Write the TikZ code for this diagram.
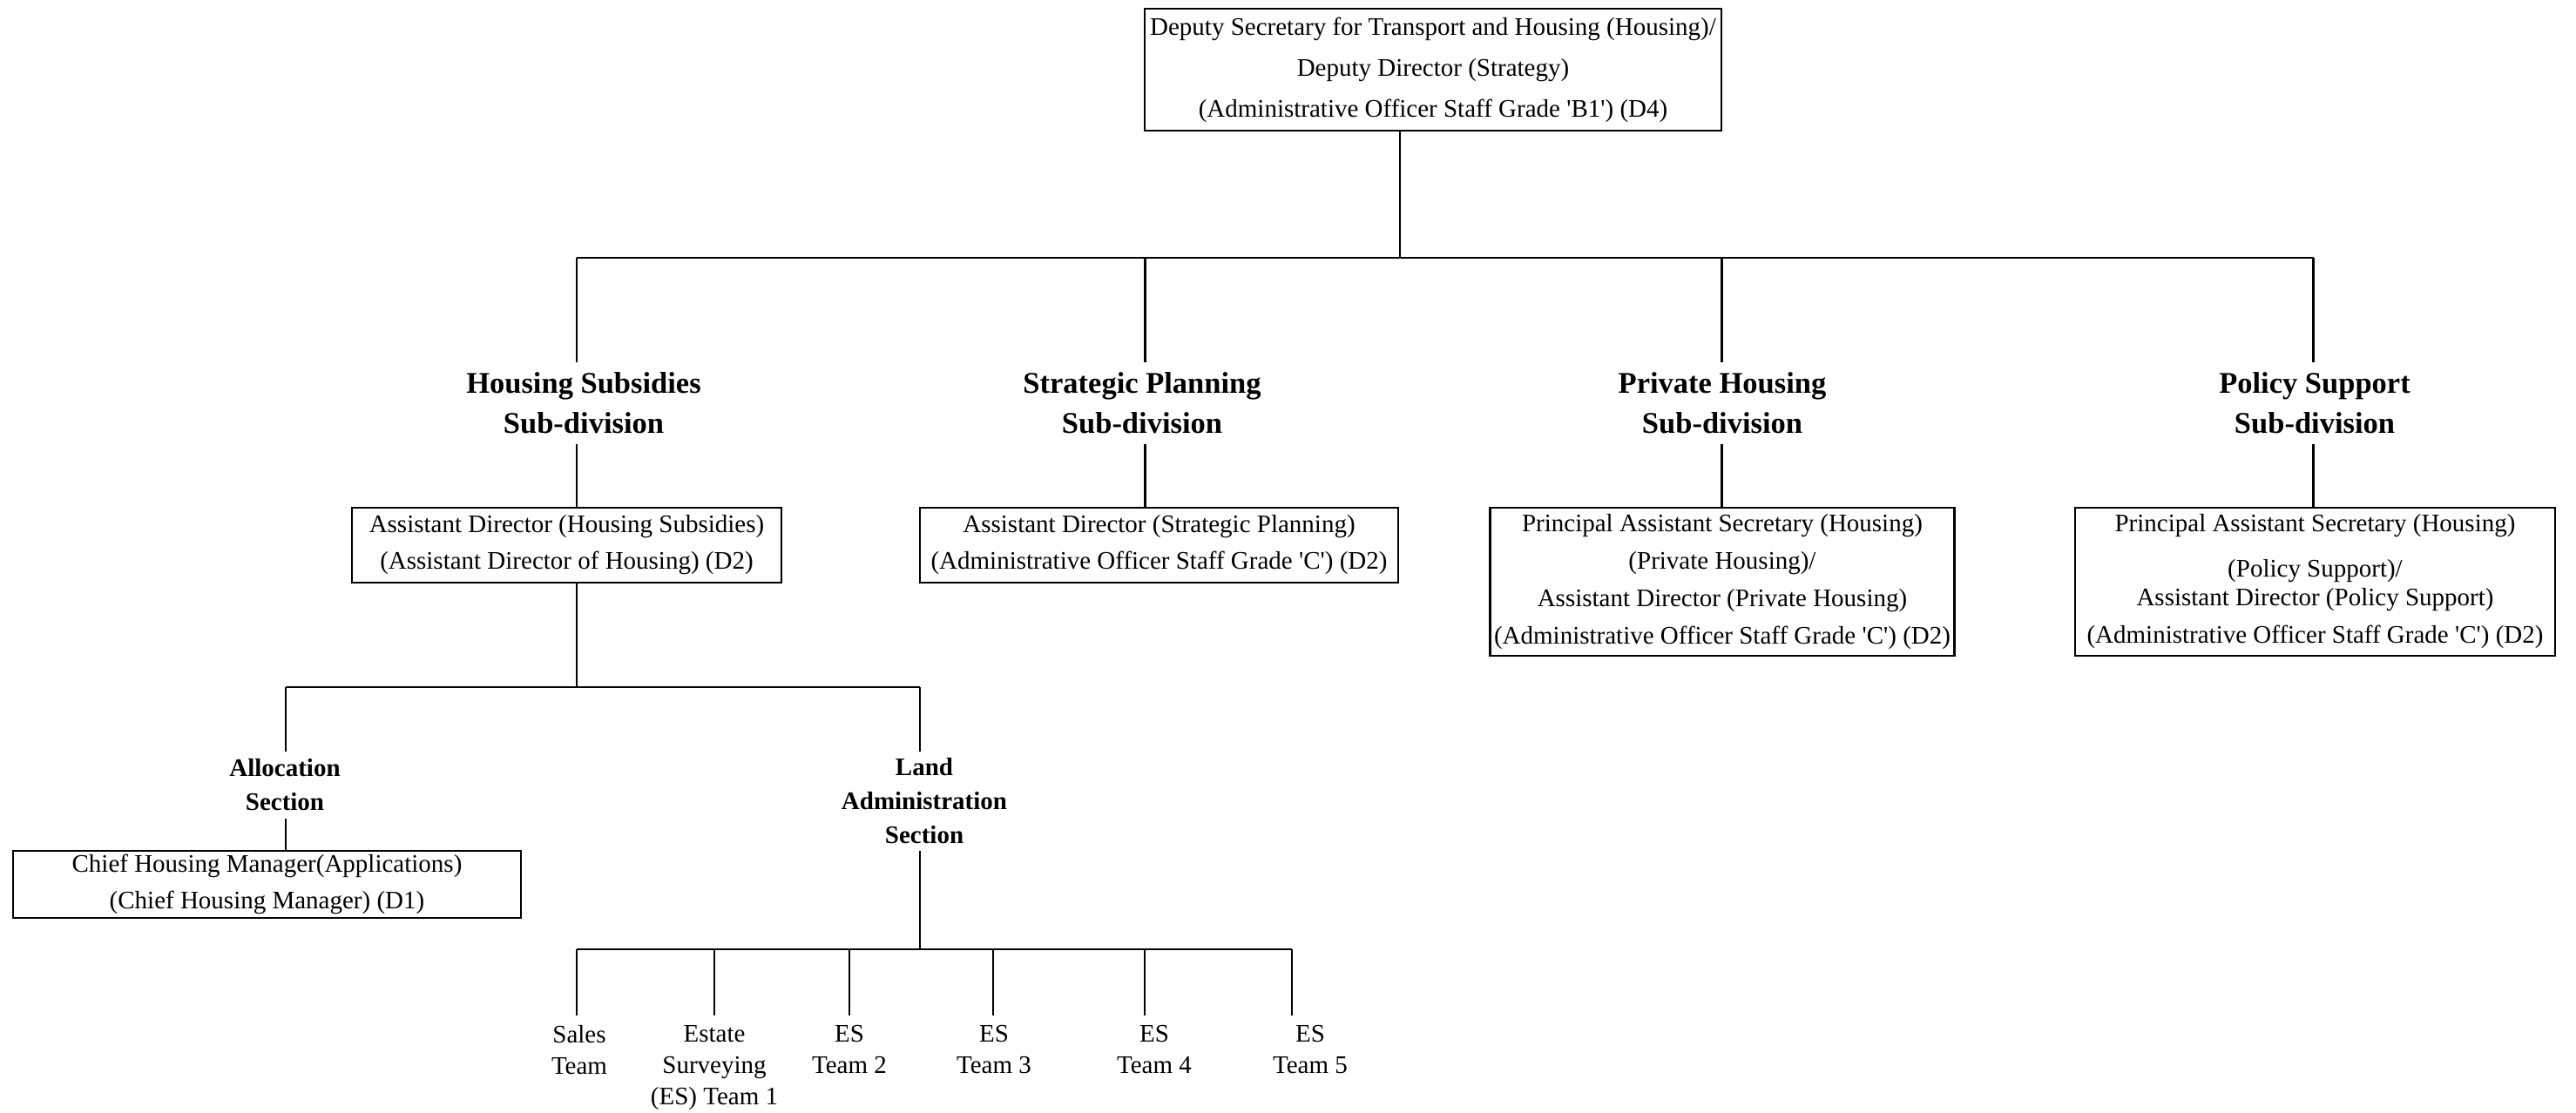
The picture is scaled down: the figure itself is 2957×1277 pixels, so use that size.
\documentclass[tikz,border=0pt]{standalone}
\usepackage{fontspec}
\setmainfont{Liberation Serif}
\newcommand{\sq}{\textquotesingle}
\begin{document}
\begin{tikzpicture}[x=1pt,y=-1pt,
  box/.style={draw, line width=2.6pt, inner sep=0pt, align=center, font=\fontsize{29}{42}\selectfont},
  head/.style={inner sep=0pt, align=center, font=\bfseries\fontsize{34.5}{46}\selectfont},
  sect/.style={inner sep=0pt, align=center, font=\bfseries\fontsize{29}{39}\selectfont},
  team/.style={anchor=north, inner xsep=0pt, inner ysep=11pt, align=center, font=\fontsize{29}{36}\selectfont},
  conn/.style={line width=2.6pt}]
\useasboundingbox (0,0) rectangle (2957,1277);

% top
\node[box, minimum width=662, minimum height=140, font=\fontsize{29}{47}\selectfont] (top) at (1645,80)
  {Deputy Secretary for Transport and Housing (Housing)/\\Deputy Director (Strategy)\\(Administrative Officer Staff Grade \sq B1\sq) (D4)};

% sub-division headings
\node[head, minimum height=94] (hs) at (670,463) {Housing Subsidies\\Sub-division};
\node[head, minimum height=94] (sp) at (1311,463) {Strategic Planning\\Sub-division};
\node[head, minimum height=94] (ph) at (1977,463) {Private Housing\\Sub-division};
\node[head, minimum height=94] (ps) at (2657,463) {Policy Support\\Sub-division};

% second level boxes
\node[box, minimum width=493, minimum height=86] (adhs) at (650.5,626)
  {Assistant Director (Housing Subsidies)\\(Assistant Director of Housing) (D2)};
\node[box, minimum width=549, minimum height=86] (adsp) at (1330.5,626)
  {Assistant Director (Strategic Planning)\\(Administrative Officer Staff Grade \sq C\sq) (D2)};
\node[box, minimum width=533, minimum height=170, font=\fontsize{29}{43}\selectfont] (adph) at (1977,668)
  {Principal Assistant Secretary (Housing)\\(Private Housing)/\\Assistant Director (Private Housing)\\(Administrative Officer Staff Grade \sq C\sq) (D2)};
\node[box, minimum width=551, minimum height=170, font=\fontsize{29}{43}\selectfont] (adps) at (2657.5,668)
  {Principal Assistant Secretary (Housing)\\[9pt](Policy Support)/\\[-10pt]Assistant Director (Policy Support)\\(Administrative Officer Staff Grade \sq C\sq) (D2)};

% sections
\node[sect, minimum height=77] (alloc) at (327,901.5) {Allocation\\Section};
\node[sect, minimum height=114] (land) at (1061,920) {Land\\Administration\\Section};
\node[box, minimum width=583, minimum height=77] (chm) at (306.5,1015.5)
  {Chief Housing Manager(Applications)\\(Chief Housing Manager) (D1)};

% teams
\node[team] (t1) at (665,1166) {Sales\\Team};
\node[team] (t2) at (820,1166) {Estate\\Surveying\\(ES) Team 1};
\node[team] (t3) at (975,1166) {ES\\Team 2};
\node[team] (t4) at (1141,1166) {ES\\Team 3};
\node[team] (t5) at (1325,1166) {ES\\Team 4};
\node[team] (t6) at (1504,1166) {ES\\Team 5};

% junction coordinates
\coordinate (j0) at (1607,296);
\coordinate (b1) at (662,296);
\coordinate (b2) at (1314.5,296);
\coordinate (b3) at (1976.5,296);
\coordinate (b4) at (2655.5,296);
\coordinate (j1) at (662,789);
\coordinate (c1) at (328,789);
\coordinate (c2) at (1056,789);
\coordinate (j2) at (1056,1090);
\coordinate (d1) at (662,1090);
\coordinate (d2) at (820,1090);
\coordinate (d3) at (975,1090);
\coordinate (d4) at (1140,1090);
\coordinate (d5) at (1314,1090);
\coordinate (d6) at (1483,1090);

% connectors
\draw[conn] (j0 |- top.south) -- (j0);
\draw[conn] (b1) -- (b4);
\draw[conn] (b1) -- (b1 |- hs.north);
\draw[conn] (b2) -- (b2 |- sp.north);
\draw[conn] (b3) -- (b3 |- ph.north);
\draw[conn] (b4) -- (b4 |- ps.north);
\draw[conn] (b1 |- hs.south) -- (b1 |- adhs.north);
\draw[conn] (b2 |- sp.south) -- (b2 |- adsp.north);
\draw[conn] (b3 |- ph.south) -- (b3 |- adph.north);
\draw[conn] (b4 |- ps.south) -- (b4 |- adps.north);

\draw[conn] (j1 |- adhs.south) -- (j1);
\draw[conn] (c1) -- (c2);
\draw[conn] (c1) -- (c1 |- alloc.north);
\draw[conn] (c1 |- alloc.south) -- (c1 |- chm.north);
\draw[conn] (c2) -- (c2 |- land.north);
\draw[conn] (c2 |- land.south) -- (j2);

\draw[conn] (d1) -- (d6);
\draw[conn] (d1) -- (d1 |- t1.north);
\draw[conn] (d2) -- (d2 |- t2.north);
\draw[conn] (d3) -- (d3 |- t3.north);
\draw[conn] (d4) -- (d4 |- t4.north);
\draw[conn] (d5) -- (d5 |- t5.north);
\draw[conn] (d6) -- (d6 |- t6.north);
\end{tikzpicture}
\end{document}
